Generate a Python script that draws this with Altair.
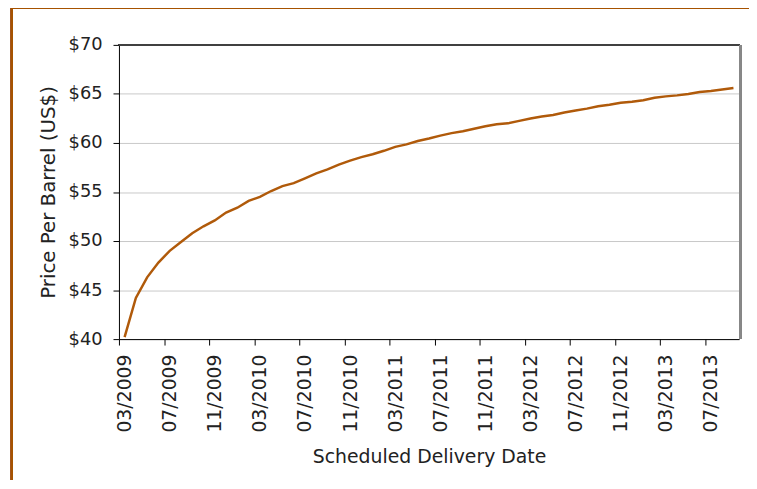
import altair as alt
import pandas as pd

# Monthly settlement prices, 03/2009 .. 09/2013 (one per month)
prices = [40.2, 44.2, 46.3, 47.8, 49.0, 49.9, 50.8, 51.5, 52.1, 52.9,
          53.4, 54.1, 54.5, 55.1, 55.6, 55.9, 56.4, 56.9, 57.3, 57.8,
          58.2, 58.55, 58.85, 59.2, 59.6, 59.85, 60.2, 60.45, 60.75, 61.0,
          61.2, 61.45, 61.7, 61.9, 62.0, 62.25, 62.5, 62.7, 62.85, 63.1,
          63.3, 63.5, 63.75, 63.9, 64.1, 64.2, 64.35, 64.6, 64.75, 64.85,
          65.0, 65.2, 65.3, 65.45, 65.6]
tick_labels = ["03/2009", "07/2009", "11/2009", "03/2010", "07/2010",
               "11/2010", "03/2011", "07/2011", "11/2011", "03/2012",
               "07/2012", "11/2012", "03/2013", "07/2013"]
y_ticks = [40, 45, 50, 55, 60, 65, 70]

n = len(prices)
df = pd.DataFrame({"pos": [i + 0.5 for i in range(n)], "price": prices})

W, H = 626, 297
FONT = "DejaVu Sans"
label_js = "[" + ",".join("'" + t + "'" for t in tick_labels) + "]"

x_axis = alt.Axis(
    values=[4 * k for k in range(len(tick_labels))],
    labelExpr=label_js + "[round(datum.value / 4)]",
    labelAngle=270, labelAlign="right", labelBaseline="middle",
    labelOffset=W / n / 2, labelFlush=False, labelOverlap=False,
    labelPadding=9, labelFont=FONT, labelFontSize=19, labelColor="#222222",
    tickSize=6, tickColor="#000000", domainColor="#000000",
    grid=False, title="Scheduled Delivery Date", titleFont=FONT,
    titleFontSize=19, titleFontWeight="normal", titleColor="#222222",
    titlePadding=16,
)
y_axis = alt.Axis(
    values=y_ticks, labelExpr="'$' + datum.value",
    labelFont=FONT, labelFontSize=18, labelColor="#222222", labelPadding=11,
    tickSize=6, tickColor="#000000", domainColor="#000000",
    grid=True, gridColor="#C8C8C8",
    title="Price Per Barrel (US$)", titleFont=FONT, titleFontSize=20,
    titleFontWeight="normal", titleColor="#222222", titlePadding=10,
)

line = alt.Chart(df).mark_line(color="#B05A0A", strokeWidth=2.5).encode(
    x=alt.X("pos:Q", scale=alt.Scale(domain=[0, n], nice=False, zero=False), axis=x_axis),
    y=alt.Y("price:Q", scale=alt.Scale(domain=[40, 70], nice=False, zero=False), axis=y_axis),
)

top_border = alt.Chart(df).mark_rule(color="#404040", strokeWidth=1.5).encode(
    x=alt.value(0), x2=alt.value(W), y=alt.value(0))
right_border = alt.Chart(df).mark_rule(color="#888888", strokeWidth=2).encode(
    x=alt.value(W + 1), y=alt.value(0), y2=alt.value(H))
frame_left = alt.Chart(df).mark_rule(color="#A65300", strokeWidth=2).encode(
    x=alt.value(-108), y=alt.value(-38), y2=alt.value(H + 150))
frame_top = alt.Chart(df).mark_rule(color="#A65300", strokeWidth=1.5).encode(
    x=alt.value(-108), x2=alt.value(W + 30), y=alt.value(-37.5))

chart = alt.layer(line, top_border, right_border, frame_left, frame_top).properties(
    width=W, height=H,
    autosize="none",
    padding={"left": 112, "top": 35, "right": 10, "bottom": 140},
).configure_view(stroke=None)

chart.save("out.html", embed_options={"renderer": "svg", "actions": False})
